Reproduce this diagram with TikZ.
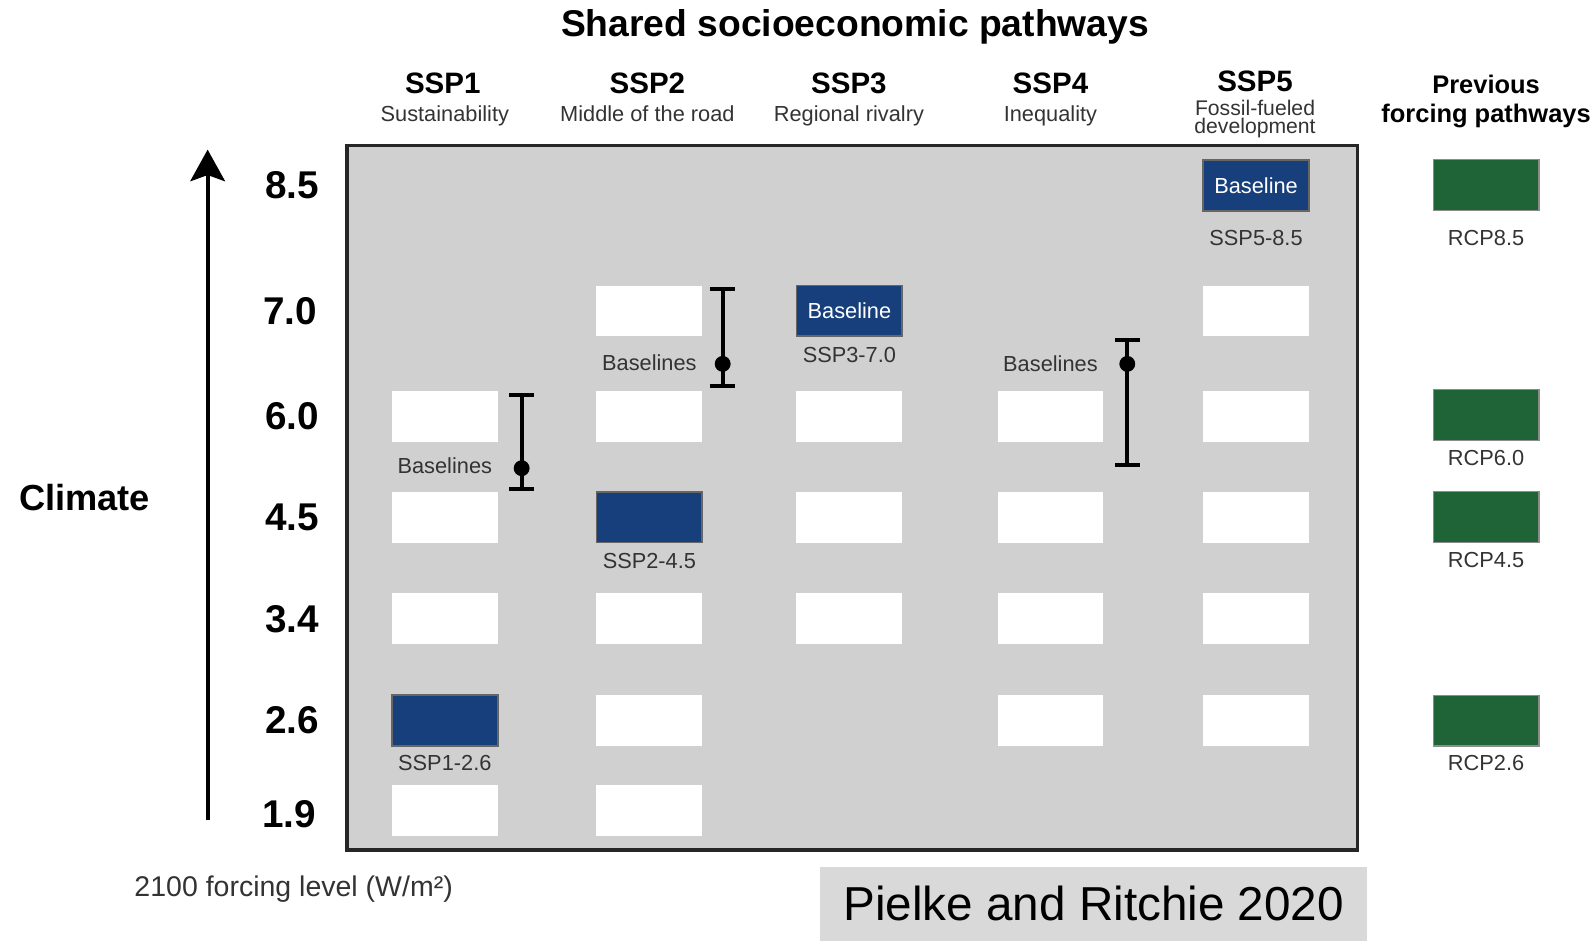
\documentclass[tikz,border=0pt]{standalone}
\usepackage{fontspec}
\setmainfont{Liberation Sans}
\usepackage{tikz}
\usetikzlibrary{positioning,arrows.meta}
\definecolor{panelgray}{HTML}{D0D0D0}
\definecolor{creditgray}{HTML}{D9D9D9}
\definecolor{sspblue}{HTML}{173F7C}
\definecolor{rcpgreen}{HTML}{1F6437}
\definecolor{txtgray}{HTML}{333333}
\newcommand{\sizept}[1]{\fontsize{#1}{#1}\selectfont}

\begin{document}
\begin{tikzpicture}[x=0.5pt,y=-0.5pt,
  emptybox/.style={rectangle,fill=white,minimum width=52pt,minimum height=25pt,inner sep=0pt},
  sspbox/.style={emptybox,fill=sspblue,draw=black!60,line width=0.9pt,text=white,font=\sizept{10.7}},
  rcpbox/.style={emptybox,fill=rcpgreen,draw=black!45,line width=0.6pt},
  lbl/.style={inner sep=0pt,text=txtgray,font=\sizept{10.7}},
  head/.style={anchor=base,inner sep=0pt,font=\bfseries\sizept{14.5}},
  sub/.style={anchor=base,inner sep=0pt,text=txtgray,font=\sizept{10.7}},
  level/.style={inner sep=0pt,font=\bfseries\sizept{19}},
  errbar/.style={line width=1.9pt,arrows={Bar[width=12pt]-Bar[width=12pt]}},
  dot/.style={circle,fill=black,minimum size=7.8pt,inner sep=0pt}]
  \useasboundingbox (0,0) rectangle (1568,924);

  % headings
  \node[anchor=base,inner sep=0pt,font=\bfseries\sizept{18.3}] (title) at (840,36) {Shared socioeconomic pathways};
  \node[head] (h1) at (435,92) {SSP1};
  \node[head] (h2) at (636,92) {SSP2};
  \node[head] (h3) at (834,92) {SSP3};
  \node[head] (h4) at (1032,92) {SSP4};
  \node[head] (h5) at (1233,90) {SSP5};
  \node[sub] (t1) at (437,119) {Sustainability};
  \node[sub] (t2) at (636,119) {Middle of the road};
  \node[sub] (t3) at (834,119) {Regional rivalry};
  \node[sub] (t4) at (1032,119) {Inequality};
  \node[sub,font=\sizept{10.4}] (t5a) at (1233,113) {Fossil-fueled};
  \node[sub,font=\sizept{10.4}] (t5b) at (1233,131) {development};
  \node[head,font=\bfseries\sizept{12.5}] (p1) at (1460,92) {Previous};
  \node[head,font=\bfseries\sizept{12.5}] (p2) at (1460,120) {forcing pathways};

  % climate axis
  \node[inner sep=0pt,font=\bfseries\sizept{17.8}] (clim) at (83,489) {Climate};
  \coordinate (ax0) at (204,806);
  \coordinate (ax1) at (204,147);
  \draw[line width=2pt,-{Stealth[length=15.5pt,width=17pt,inset=3pt]}] (ax0) -- (ax1);
  \node[level] (v85) at (287,182) {8.5};
  \node[level] (v70) at (285,305.5) {7.0};
  \node[level] (v60) at (287,409) {6.0};
  \node[level] (v45) at (287,508) {4.5};
  \node[level] (v34) at (287,608) {3.4};
  \node[level] (v26) at (287,708) {2.6};
  \node[level] (v19) at (284,800) {1.9};

  % panel
  \draw[fill=panelgray,draw=black!85,line width=1.6pt] (341,143) rectangle (1334,835);

  % SSP1
  \node[emptybox] (c1r60) at (437,409) {};
  \node[emptybox] (c1r45) at (437,508) {};
  \node[emptybox] (c1r34) at (437,608) {};
  \node[sspbox] (c1r26) at (437,708) {};
  \node[lbl] (l1r26) [below=4pt of c1r26] {SSP1-2.6};
  \node[emptybox] (c1r19) at (437,796) {};
  \node[lbl] (b1) at (437,458) {Baselines};
  \coordinate (e1t) at (512.5,386);
  \coordinate (e1b) at (512.5,482.5);
  \draw[errbar] (e1t) -- (e1b);
  \node[dot] (d1) at (512.5,460) {};

  % SSP2
  \node[emptybox] (c2r70) at (638,305.5) {};
  \node[emptybox] (c2r60) at (638,409) {};
  \node[sspbox] (c2r45) at (638,508) {};
  \node[lbl] (l2r45) [below=4.5pt of c2r45] {SSP2-4.5};
  \node[emptybox] (c2r34) at (638,608) {};
  \node[emptybox] (c2r26) at (638,708) {};
  \node[emptybox] (c2r19) at (638,796) {};
  \node[lbl] (b2) at (638,356) {Baselines};
  \coordinate (e2t) at (710,282);
  \coordinate (e2b) at (710,381.5);
  \draw[errbar] (e2t) -- (e2b);
  \node[dot] (d2) at (710,357.5) {};

  % SSP3
  \node[sspbox] (c3r70) at (834.5,305.5) {Baseline};
  \node[lbl] (l3r70) [below=4.5pt of c3r70] {SSP3-7.0};
  \node[emptybox] (c3r60) at (834.5,409) {};
  \node[emptybox] (c3r45) at (834.5,508) {};
  \node[emptybox] (c3r34) at (834.5,608) {};

  % SSP4
  \node[emptybox] (c4r60) at (1032,409) {};
  \node[emptybox] (c4r45) at (1032,508) {};
  \node[emptybox] (c4r34) at (1032,608) {};
  \node[emptybox] (c4r26) at (1032,708) {};
  \node[lbl] (b4) at (1032,357) {Baselines};
  \coordinate (e4t) at (1107.5,332.5);
  \coordinate (e4b) at (1107.5,458.5);
  \draw[errbar] (e4t) -- (e4b);
  \node[dot] (d4) at (1107.5,357.5) {};

  % SSP5
  \node[sspbox] (c5r85) at (1234,182) {Baseline};
  \node[lbl] (l5r85) [below=9pt of c5r85] {SSP5-8.5};
  \node[emptybox] (c5r70) at (1234,305.5) {};
  \node[emptybox] (c5r60) at (1234,409) {};
  \node[emptybox] (c5r45) at (1234,508) {};
  \node[emptybox] (c5r34) at (1234,608) {};
  \node[emptybox] (c5r26) at (1234,708) {};

  % previous forcing pathways
  \node[rcpbox] (rcp85) at (1460,182) {};
  \node[lbl] (lrcp85) [below=9pt of rcp85] {RCP8.5};
  \node[rcpbox] (rcp60) at (1460,408) {};
  \node[lbl] (lrcp60) [below=4pt of rcp60] {RCP6.0};
  \node[rcpbox] (rcp45) at (1460,508) {};
  \node[lbl] (lrcp45) [below=4.5pt of rcp45] {RCP4.5};
  \node[rcpbox] (rcp26) at (1460,708) {};
  \node[lbl] (lrcp26) [below=4pt of rcp26] {RCP2.6};

  % footer
  \node[sub,font=\sizept{14}] (unit) at (288.5,881) {2100 forcing level (W/m²)};
  \node[fill=creditgray,inner sep=0pt,minimum width=268.5pt,minimum height=36pt,font=\sizept{23.4}] (credit) at (1074.5,888) {Pielke and Ritchie 2020};
\end{tikzpicture}
\end{document}
